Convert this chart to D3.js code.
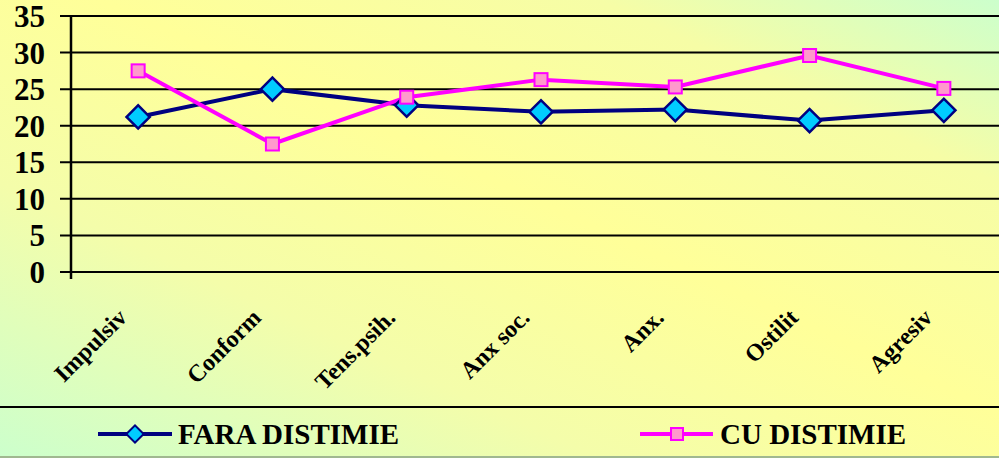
<!DOCTYPE html>
<html>
<head>
<meta charset="utf-8">
<script src="https://cdn.jsdelivr.net/npm/d3@7"></script>
<style>
  body { margin: 0; }
  svg { display: block; }
  text { font-family: "Liberation Serif", "Times New Roman", serif; font-weight: bold; }
</style>
</head>
<body>
<script>
const categories = ["Impulsiv", "Conform", "Tens.psih.", "Anx soc.", "Anx.", "Ostilit", "Agresiv"];
const faraDistimie = [21.2, 25.0, 22.8, 21.9, 22.2, 20.7, 22.1];
const cuDistimie = [27.5, 17.5, 23.9, 26.3, 25.3, 29.6, 25.1];
const yTicks = [0, 5, 10, 15, 20, 25, 30, 35];

const width = 999;
const height = 458;

const svg = d3.select("body")
  .append("svg")
  .attr("width", width)
  .attr("height", height);

// background gradient: green corners, yellow middle
const defs = svg.append("defs");
const grad = defs.append("linearGradient")
  .attr("id", "bg")
  .attr("x1", "0").attr("y1", "1")
  .attr("x2", "1").attr("y2", "0");
grad.append("stop").attr("offset", "0").attr("stop-color", "#ccffcc");
grad.append("stop").attr("offset", "0.3").attr("stop-color", "#f4fdaa");
grad.append("stop").attr("offset", "0.55").attr("stop-color", "#ffff99");
grad.append("stop").attr("offset", "0.8").attr("stop-color", "#f6fda6");
grad.append("stop").attr("offset", "1").attr("stop-color", "#ccffcc");

svg.append("rect")
  .attr("width", width)
  .attr("height", height)
  .attr("fill", "url(#bg)");

const xScale = d3.scaleBand()
  .domain(categories)
  .range([71, 1011]);

const yScale = d3.scaleLinear()
  .domain([0, 35])
  .range([272, 16]);

const cx = (d, i) => xScale(categories[i]) + xScale.bandwidth() / 2;

// gridlines
svg.append("g")
  .selectAll("line")
  .data(yTicks)
  .join("line")
  .attr("x1", 60)
  .attr("x2", width)
  .attr("y1", d => yScale(d))
  .attr("y2", d => yScale(d))
  .attr("stroke", "#000")
  .attr("stroke-width", 2);

// y axis
const yAxis = d3.axisLeft(yScale).tickValues(yTicks).tickSize(0).tickPadding(26);
const gy = svg.append("g")
  .attr("transform", "translate(71,0)")
  .call(yAxis);
gy.attr("font-family", null).attr("font-size", null);
gy.select(".domain").remove();
gy.append("line")
  .attr("x1", 0).attr("x2", 0)
  .attr("y1", yScale(35)).attr("y2", yScale(0) + 7)
  .attr("stroke", "#000")
  .attr("stroke-width", 2.5);
gy.selectAll("text")
  .style("font-size", "31px")
  .attr("dy", "0.34em")
  .attr("fill", "#000");

// x category labels
svg.append("g")
  .selectAll("text")
  .data(categories)
  .join("text")
  .attr("transform", d => `translate(${xScale(d) + xScale.bandwidth() / 2 - 10},${319}) rotate(-45)`)
  .attr("text-anchor", "end")
  .style("font-size", "24px")
  .text(d => d);

// lines
const line = d3.line()
  .x(cx)
  .y(d => yScale(d));

svg.append("path")
  .datum(faraDistimie)
  .attr("d", line)
  .attr("fill", "none")
  .attr("stroke", "#000080")
  .attr("stroke-width", 4);

svg.append("path")
  .datum(cuDistimie)
  .attr("d", line)
  .attr("fill", "none")
  .attr("stroke", "#ff00ff")
  .attr("stroke-width", 4);

const diamond = d3.symbol().type(d3.symbolSquare).size(270);

svg.append("g")
  .selectAll("path")
  .data(faraDistimie)
  .join("path")
  .attr("d", diamond)
  .attr("transform", (d, i) => `translate(${cx(d, i)},${yScale(d)}) rotate(45)`)
  .attr("fill", "#00ccff")
  .attr("stroke", "#000080")
  .attr("stroke-width", 2.5);

svg.append("g")
  .selectAll("rect")
  .data(cuDistimie)
  .join("rect")
  .attr("x", (d, i) => cx(d, i) - 6.5)
  .attr("y", d => yScale(d) - 6.5)
  .attr("width", 13)
  .attr("height", 13)
  .attr("fill", "#ff99cc")
  .attr("stroke", "#ff00ff")
  .attr("stroke-width", 2);

// legend separator
svg.append("line")
  .attr("x1", 0).attr("x2", width)
  .attr("y1", 407).attr("y2", 407)
  .attr("stroke", "#000")
  .attr("stroke-width", 2);

svg.append("line")
  .attr("x1", 0).attr("x2", width)
  .attr("y1", 457).attr("y2", 457)
  .attr("stroke", "#a0b890")
  .attr("stroke-width", 2);

// legend
const legend = svg.append("g");
legend.append("line")
  .attr("x1", 98).attr("x2", 172)
  .attr("y1", 434).attr("y2", 434)
  .attr("stroke", "#000080")
  .attr("stroke-width", 4);
legend.append("path")
  .attr("d", d3.symbol().type(d3.symbolSquare).size(150))
  .attr("transform", "translate(135,434) rotate(45)")
  .attr("fill", "#00ccff")
  .attr("stroke", "#000080")
  .attr("stroke-width", 2);
legend.append("text")
  .attr("x", 178).attr("y", 444)
  .style("font-size", "29px")
  .text("FARA DISTIMIE");

legend.append("line")
  .attr("x1", 640).attr("x2", 713)
  .attr("y1", 434).attr("y2", 434)
  .attr("stroke", "#ff00ff")
  .attr("stroke-width", 4);
legend.append("rect")
  .attr("x", 671).attr("y", 428)
  .attr("width", 12).attr("height", 12)
  .attr("fill", "#ff99cc")
  .attr("stroke", "#ff00ff")
  .attr("stroke-width", 2);
legend.append("text")
  .attr("x", 720).attr("y", 444)
  .style("font-size", "29px")
  .text("CU DISTIMIE");
</script>
</body>
</html>
